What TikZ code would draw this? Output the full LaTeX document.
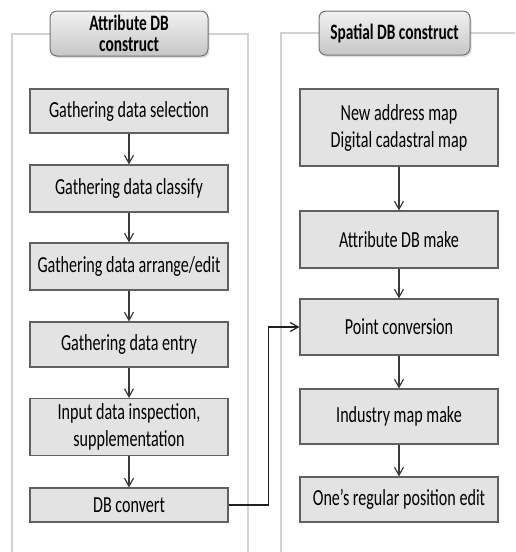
\documentclass[tikz,border=0pt]{standalone}
\usepackage{fontspec}
\setmainfont{Carlito}[FakeStretch=0.7]
\usetikzlibrary{arrows.meta, shadows}

\tikzset{
  stepbox/.style={draw=gray!75!black, fill=gray!22, line width=1.2pt,
    minimum width=198pt, inner sep=0pt, align=center,
    font=\fontsize{23}{27}\selectfont},
  titlebox/.style={draw=gray!90!black, rounded corners=7pt, line width=1pt,
    top color=gray!10, bottom color=gray!45, inner sep=0pt, align=center,
    font=\bfseries\fontsize{22}{21}\selectfont,
    drop shadow={opacity=0.25, shadow xshift=1.5pt, shadow yshift=-2pt}},
  panel/.style={draw=gray!35, line width=1.2pt},
  flow/.style={->, draw=gray!45!black, line width=1.2pt}
}

\begin{document}
\begin{tikzpicture}[x=1pt, y=-1pt, >={Straight Barb[length=8pt,width=9pt]}]
  \useasboundingbox (0,0) rectangle (515,552);

  % panels
  \draw[panel] (12,552) -- (12,34) -- (248,34) -- (248,552);
  \draw[panel] (281,552) -- (281,33) -- (515,33);

  \node[titlebox, minimum width=158pt, minimum height=45pt] (attrtitle) at (129,33.5) {Attribute DB\\construct};
  \node[titlebox, minimum width=151pt, minimum height=44pt] (spattitle) at (394.5,33) {Spatial DB construct};

  % attribute DB steps
  \node[stepbox, minimum height=44pt] (select) at (129,111) {Gathering data selection};
  \node[stepbox, minimum height=47pt] (classify) at (129,188.5) {Gathering data classify};
  \node[stepbox, minimum height=47pt] (arrange) at (129,266.5) {Gathering data arrange/edit};
  \node[stepbox, minimum height=45pt] (entry) at (129,344.5) {Gathering data entry};
  \node[stepbox, minimum height=57pt] (inspect) at (129,427) {Input data inspection,\\supplementation};
  \node[stepbox, minimum height=34pt] (dbconv) at (129,505) {DB convert};

  % spatial DB steps
  \node[stepbox, minimum height=77pt] (maps) at (399,127.5) {New address map\\Digital cadastral map};
  \node[stepbox, minimum height=57pt] (attrmake) at (399,239.5) {Attribute DB make};
  \node[stepbox, minimum height=56pt] (pointconv) at (399,327) {Point conversion};
  \node[stepbox, minimum height=55pt] (indmap) at (399,416.5) {Industry map make};
  \node[stepbox, minimum height=45pt] (posedit) at (399,499.5) {One’s regular position edit};

  \draw[flow] (select) -- (classify);
  \draw[flow] (classify) -- (arrange);
  \draw[flow] (arrange) -- (entry);
  \draw[flow] (entry) -- (inspect);
  \draw[flow] (inspect) -- (dbconv);

  \draw[flow] (maps) -- (attrmake);
  \draw[flow] (attrmake) -- (pointconv);
  \draw[flow] (pointconv) -- (indmap);
  \draw[flow] (indmap) -- (posedit);

  \draw[flow, draw=gray!25!black] (dbconv.east) -- ++(40,0) |- (pointconv.west);
\end{tikzpicture}
\end{document}
